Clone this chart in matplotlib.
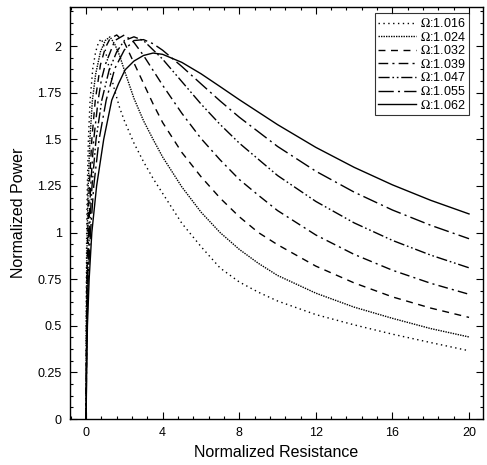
import matplotlib
matplotlib.use("Agg")
import matplotlib.pyplot as plt
from matplotlib.ticker import MultipleLocator, FuncFormatter

plt.rcParams['font.family'] = ['Liberation Sans', 'DejaVu Sans']
plt.rcParams['mathtext.fontset'] = 'stix'

labels = [r"$\Omega$:1.016", r"$\Omega$:1.024", r"$\Omega$:1.032", r"$\Omega$:1.039",
          r"$\Omega$:1.047", r"$\Omega$:1.055", r"$\Omega$:1.062"]

r_1016 = [0, 0.004, 0.008, 0.017, 0.03, 0.065, 0.12, 0.21, 0.35, 0.5, 0.65, 0.8, 1.0, 1.25, 1.5, 1.75, 2.0, 2.5, 3.0, 3.5, 4.0, 5.0, 6.0, 7.0, 8.0, 9.0, 10, 12, 14, 16, 18, 20]
p_1016 = [0, 0.25, 0.5, 0.75, 1.0, 1.25, 1.5, 1.71, 1.88, 1.97, 2.02, 2.04, 1.98, 1.86, 1.76, 1.67, 1.60, 1.48, 1.38, 1.29, 1.21, 1.05, 0.925, 0.81, 0.735, 0.68, 0.633, 0.56, 0.505, 0.455, 0.41, 0.366]

r_1024 = [0, 0.006, 0.014, 0.03, 0.06, 0.11, 0.2, 0.33, 0.5, 0.75, 1.0, 1.25, 1.5, 1.75, 2.0, 2.5, 3.0, 3.5, 4.0, 5.0, 6.0, 7.0, 8.0, 9.0, 10, 12, 14, 16, 18, 20]
p_1024 = [0, 0.25, 0.5, 0.75, 1.0, 1.25, 1.5, 1.71, 1.85, 1.97, 2.03, 2.05, 2.01, 1.95, 1.87, 1.72, 1.60, 1.50, 1.405, 1.245, 1.11, 1.0, 0.91, 0.835, 0.77, 0.675, 0.60, 0.54, 0.485, 0.44]

r_1032 = [0, 0.01, 0.02, 0.045, 0.09, 0.17, 0.3, 0.48, 0.75, 1.0, 1.25, 1.6, 2.0, 2.5, 3.0, 3.5, 4.0, 5.0, 6.0, 7.0, 8.0, 9.0, 10, 12, 14, 16, 18, 20]
p_1032 = [0, 0.25, 0.5, 0.75, 1.0, 1.25, 1.5, 1.71, 1.90, 1.99, 2.04, 2.06, 2.02, 1.91, 1.80, 1.69, 1.59, 1.43, 1.30, 1.185, 1.085, 1.0, 0.935, 0.82, 0.73, 0.655, 0.595, 0.545]

r_1039 = [0, 0.013, 0.03, 0.065, 0.13, 0.24, 0.4, 0.63, 0.8, 1.0, 1.5, 2.0, 2.5, 3.0, 3.5, 4.0, 5.0, 6.0, 7.0, 8.0, 9.0, 10, 12, 14, 16, 18, 20]
p_1039 = [0, 0.25, 0.5, 0.75, 1.0, 1.25, 1.5, 1.71, 1.82, 1.90, 2.03, 2.06, 2.02, 1.95, 1.87, 1.79, 1.64, 1.505, 1.39, 1.285, 1.2, 1.118, 0.987, 0.883, 0.798, 0.728, 0.669]

r_1047 = [0, 0.017, 0.04, 0.085, 0.17, 0.31, 0.52, 0.82, 1.2, 1.6, 2.0, 2.5, 3.0, 3.5, 4.0, 5.0, 6.0, 7.0, 8.0, 10, 12, 14, 16, 18, 20]
p_1047 = [0, 0.25, 0.5, 0.75, 1.0, 1.25, 1.5, 1.71, 1.87, 1.97, 2.03, 2.05, 2.03, 1.98, 1.93, 1.81, 1.69, 1.58, 1.48, 1.306, 1.167, 1.052, 0.958, 0.879, 0.811]

r_1055 = [0, 0.022, 0.05, 0.11, 0.23, 0.40, 0.68, 1.05, 1.5, 2.0, 2.5, 3.0, 3.5, 4.0, 5.0, 6.0, 7.0, 8.0, 10, 12, 14, 16, 18, 20]
p_1055 = [0, 0.25, 0.5, 0.75, 1.0, 1.25, 1.5, 1.71, 1.88, 1.98, 2.03, 2.035, 2.013, 1.978, 1.891, 1.798, 1.706, 1.619, 1.462, 1.329, 1.217, 1.121, 1.039, 0.967]

r_1062 = [0, 0.03, 0.07, 0.16, 0.30, 0.55, 0.92, 1.34, 1.7, 2.04, 2.5, 3.0, 3.5, 4.0, 5.0, 6.0, 7.0, 8.0, 10, 12, 14, 16, 18, 20]
p_1062 = [0, 0.25, 0.5, 0.75, 1.0, 1.25, 1.5, 1.71, 1.80, 1.873, 1.92, 1.95, 1.963, 1.956, 1.913, 1.852, 1.783, 1.713, 1.579, 1.457, 1.35, 1.256, 1.173, 1.10]

series_r = [r_1016, r_1024, r_1032, r_1039, r_1047, r_1055, r_1062]
series_p = [p_1016, p_1024, p_1032, p_1039, p_1047, p_1055, p_1062]
styles = [(0, (1, 2.5)), (0, (1, 0.8)), (0, (5, 4)), (0, (7, 3, 1.5, 3)),
          (0, (8, 2, 1.2, 2, 1.2, 2)), (0, (11, 3, 1.5, 3)), '-']

fig = plt.figure(figsize=(4.87, 4.65), dpi=100)
ax = fig.add_axes([70/487, 46/465, 413/487, 412/465])

for r, p, ls, lab in zip(series_r, series_p, styles, labels):
    ax.plot(r, p, color='black', linestyle=ls, linewidth=1.0, label=lab)

ax.set_xlim(-0.84, 20.73)
ax.set_ylim(0, 2.21)
ax.xaxis.set_major_locator(MultipleLocator(4))
ax.xaxis.set_minor_locator(MultipleLocator(0.8))
ax.yaxis.set_major_locator(MultipleLocator(0.25))
ax.yaxis.set_minor_locator(MultipleLocator(0.0625))
ax.yaxis.set_major_formatter(FuncFormatter(lambda v, pos: ('%g' % v)))
ax.tick_params(which='both', direction='in', top=True, right=True, labelsize=9, width=0.8)
ax.tick_params(which='major', length=5, pad=6)
ax.tick_params(which='minor', length=2.5)
for s in ax.spines.values():
    s.set_linewidth(1.0)

ax.set_xlabel('Normalized Resistance', fontsize=11.5, labelpad=4)
ax.set_ylabel('Normalized Power', fontsize=11.5, labelpad=8)

leg = ax.legend(loc='upper right', bbox_to_anchor=(0.966, 0.985), fontsize=9, frameon=True,
                fancybox=False, edgecolor='black', handlelength=3.0, handletextpad=0.3,
                borderpad=0.3, labelspacing=0.05, borderaxespad=0)
leg.get_frame().set_linewidth(0.8)

fig.savefig('out.png', dpi=100)
